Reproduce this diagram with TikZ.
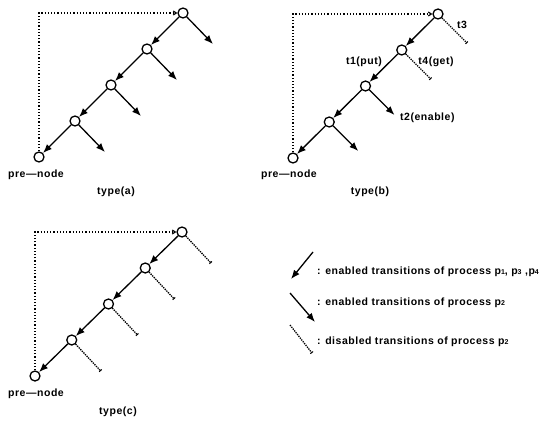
\documentclass[tikz,border=0pt]{standalone}
\usepackage{fontspec}
\setmainfont{Liberation Sans}
\newfontfamily\lblfont{Liberation Sans}[LetterSpace=5]
\usetikzlibrary{arrows.meta}
\newcommand\pn[1]{p{\fontsize{7}{7}\selectfont #1}}
\tikzset{
  state/.style={circle,draw,line width=1.3pt,minimum size=10pt,inner sep=0pt},
  enab/.style={line width=1.3pt,-{Latex[length=9pt,width=7pt]}},
  dis/.style={densely dotted,line width=1.3pt,-{Bar[width=3.5pt,line width=1pt]}},
  back/.style={dotted,line width=1.2pt,-{Straight Barb[length=3pt,width=4pt]}},
  lbl/.style={font=\lblfont\bfseries\fontsize{10.5}{12}\selectfont,inner sep=1pt}
}
\begin{document}
\begin{tikzpicture}[x=1pt,y=-1pt]
  \useasboundingbox (0,0) rectangle (551,420);
  % type(a)
  \foreach \i in {0,...,4} \node[state] (a\i) at (183-36*\i,13+36*\i) {};
  \foreach \i [count=\j] in {0,...,3} {
      \coordinate (ar\i) at ([shift={(30,31)}]a\i.center);
      \draw[enab] (a\i) -- (a\j);
      \draw[enab] (a\i) -- (ar\i);
  }
  \draw[back] (a4.north) |- (a0.west);
  \node[lbl] (preA) at (36,175) {pre—node};
  \node[lbl] (typA) at (116,192) {type(a)};
  % type(b)
  \foreach \i in {0,...,4} \node[state] (b\i) at (438-36.25*\i,14+36*\i) {};
  \foreach \i [count=\j] in {0,...,3} {
      \coordinate (br\i) at ([shift={(29,29)}]b\i.center);
      \draw[enab] (b\i) -- (b\j);
  }
  \draw[dis] (b0) -- (br0);
  \draw[dis] (b1) -- (br1);
  \draw[enab] (b2) -- (br2);
  \draw[enab] (b3) -- (br3);
  \draw[back] (b4.north) |- (b0.west);
  \node[lbl] (t3) at (462,25) {t3};
  \node[lbl] (t1) at (364,62) {t1(put)};
  \node[lbl] (t4) at (436,62) {t4(get)};
  \node[lbl,anchor=west] (t2) at (399,118) {t2(enable)};
  \node[lbl] (preB) at (289,175) {pre—node};
  \node[lbl] (typB) at (370,192) {type(b)};
  % type(c)
  \foreach \i in {0,...,4} \node[state] (c\i) at (182-36.75*\i,232+36*\i) {};
  \foreach \i [count=\j] in {0,...,3} {
      \coordinate (cr\i) at ([shift={(29,31)}]c\i.center);
      \draw[enab] (c\i) -- (c\j);
      \draw[dis] (c\i) -- (cr\i);
  }
  \draw[back] (c4.north) |- (c0.west);
  \node[lbl] (preC) at (36,394) {pre—node};
  \node[lbl] (typC) at (118,412) {type(c)};
  % 图例
  \coordinate (l1s) at (313,252); \coordinate (l1e) at (291,279);
  \coordinate (l2s) at (290,293); \coordinate (l2e) at (315,322);
  \coordinate (l3s) at (290,325); \coordinate (l3e) at (312,353);
  \draw[enab] (l1s) -- (l1e);
  \draw[enab] (l2s) -- (l2e);
  \draw[dis] (l3s) -- (l3e);
  \node[lbl,anchor=west] (leg1) at (316,272) {: enabled transitions of process \pn{1}, \pn{3} ,\pn{4}};
  \node[lbl,anchor=west] (leg2) at (316,303) {: enabled transitions of process \pn{2}};
  \node[lbl,anchor=west] (leg3) at (316,342) {: disabled transitions of process \pn{2}};
\end{tikzpicture}
\end{document}
